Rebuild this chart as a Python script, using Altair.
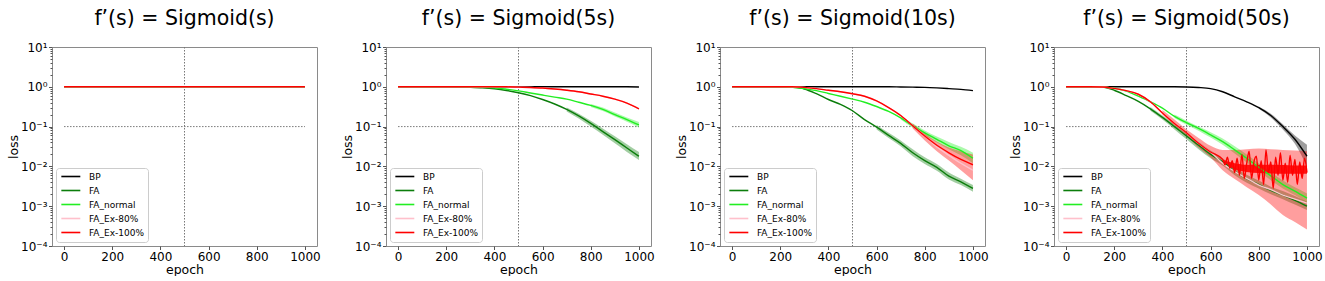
import altair as alt
import pandas as pd

# ---------------- data ----------------
EPOCHS = [0, 50, 100, 150, 200, 250, 300, 350, 400, 450, 500,
          550, 600, 650, 700, 750, 800, 850, 900, 950, 1000]
SERIES = ["BP", "FA", "FA_normal", "FA_Ex-80%", "FA_Ex-100%"]
COLORS = ["#000000", "#0b7d0b", "#22ee22", "#ffc0cb", "#ff0000"]
TITLES = ["f’(s) = Sigmoid(s)", "f’(s) = Sigmoid(5s)",
          "f’(s) = Sigmoid(10s)", "f’(s) = Sigmoid(50s)"]
X_TICKS = [0, 200, 400, 600, 800, 1000]
Y_TICKS = [1e-4, 1e-3, 1e-2, 1e-1, 1e0, 1e1]
Y_MINOR = [m * 10.0 ** p for p in (-4, -3, -2, -1, 0) for m in range(2, 10)]
V_REF = [500]
H_REF = [0.1]
H_REF_X = [0, 1000]

# panel 1 : Sigmoid(s) -- everything flat at 1
P1_BP = [1.0] * 21
P1_FA = [1.0] * 21
P1_FAN = [1.0] * 21
P1_EX80 = [1.0] * 21
P1_EX100 = [1.0] * 21

# panel 2 : Sigmoid(5s)
P2_BP = [1.0] * 20 + [0.99]
P2_FA = [1.0, 1.0, 1.0, 1.0, 1.0, 0.99, 0.97, 0.94, 0.89, 0.81, 0.71,
         0.60, 0.48, 0.37, 0.27, 0.185, 0.12, 0.075, 0.047, 0.029, 0.018]
P2_FAN = [1.0, 1.0, 1.0, 1.0, 1.0, 1.0, 0.99, 0.97, 0.94, 0.87, 0.79,
          0.70, 0.62, 0.55, 0.49, 0.41, 0.34, 0.27, 0.20, 0.15, 0.11]
P2_EX100 = [1.0, 1.0, 1.0, 1.0, 1.0, 1.0, 1.0, 1.0, 1.0, 1.0, 0.98,
            0.96, 0.93, 0.88, 0.82, 0.75, 0.66, 0.58, 0.49, 0.39, 0.28]
P2_EX80 = [1.0, 1.0, 1.0, 1.0, 1.0, 1.0, 1.0, 1.0, 1.0, 1.0, 0.98,
           0.96, 0.93, 0.88, 0.82, 0.75, 0.66, 0.58, 0.49, 0.39, 0.28]

# panel 3 : Sigmoid(10s)
P3_BP = [1.0] * 14 + [0.99, 0.98, 0.97, 0.94, 0.90, 0.86, 0.80]
P3_FA = [1.0, 1.0, 1.0, 1.0, 1.0, 0.97, 0.88, 0.67, 0.48, 0.36, 0.25,
         0.15, 0.097, 0.06, 0.038, 0.022, 0.014, 0.0095, 0.0057, 0.0041, 0.0028]
P3_FAN = [1.0, 1.0, 1.0, 1.0, 1.0, 0.97, 0.90, 0.80, 0.68, 0.58, 0.49,
          0.41, 0.32, 0.24, 0.165, 0.105, 0.07, 0.048, 0.033, 0.025, 0.016]
P3_EX100 = [1.0, 1.0, 1.0, 1.0, 1.0, 1.0, 0.97, 0.90, 0.82, 0.75, 0.67,
            0.58, 0.44, 0.30, 0.19, 0.105, 0.058, 0.034, 0.022, 0.015, 0.011]
P3_EX80 = [1.0, 1.0, 1.0, 1.0, 1.0, 1.0, 0.97, 0.90, 0.82, 0.75, 0.67,
           0.58, 0.44, 0.30, 0.19, 0.105, 0.058, 0.031, 0.019, 0.012, 0.008]

# panel 4 : Sigmoid(50s)
P4_BP = [1.0] * 10 + [0.99, 0.96, 0.90, 0.75, 0.56, 0.42, 0.30, 0.19, 0.10, 0.048, 0.018]
P4_FA = [1.0, 1.0, 1.0, 0.99, 0.82, 0.60, 0.43, 0.28, 0.17, 0.10, 0.058,
         0.034, 0.02, 0.013, 0.0076, 0.0049, 0.0035, 0.0025, 0.0019, 0.0014, 0.001]
P4_FAN = [1.0, 1.0, 1.0, 0.99, 0.92, 0.78, 0.58, 0.42, 0.29, 0.18, 0.125,
          0.09, 0.062, 0.042, 0.026, 0.016, 0.0095, 0.0058, 0.0035, 0.0024, 0.0016]
P4_EX80 = [1.0, 1.0, 1.0, 0.99, 0.91, 0.80, 0.65, 0.42, 0.22, 0.12, 0.07,
           0.038, 0.023, 0.012, 0.0075, 0.005, 0.0034, 0.0026, 0.0019, 0.0015, 0.0012]
P4_EX100_EPOCHS = [0, 50, 100, 150, 200, 250, 300, 350, 400, 450, 500, 550, 600]
P4_EX100 = [1.0, 1.0, 1.0, 0.99, 0.91, 0.80, 0.65, 0.42, 0.22, 0.12, 0.07, 0.038, 0.023]
P4_EX100_NOISY_EPOCHS = list(range(650, 1001, 10))
P4_EX100_NOISY = [0.015, 0.011, 0.017, 0.009, 0.014, 0.007, 0.016, 0.006, 0.020, 0.005,
                  0.012, 0.024, 0.005, 0.013, 0.018, 0.0045, 0.014, 0.0035, 0.026, 0.007,
                  0.013, 0.0028, 0.017, 0.006, 0.022, 0.0045, 0.012, 0.004, 0.019, 0.006,
                  0.015, 0.0035, 0.013, 0.005, 0.016, 0.007]
# dense core of the noisy FA_Ex-100% trace
P4_CORE_E = [650, 700, 750, 800, 850, 900, 950, 1000]
P4_CORE_LO = [0.012, 0.0085, 0.0072, 0.0068, 0.0066, 0.0065, 0.0065, 0.0065]
P4_CORE_HI = [0.015, 0.012, 0.011, 0.011, 0.011, 0.0108, 0.0105, 0.0105]

# spread bands (lower / upper) where visible
P2_FA_BAND_E = [700, 750, 800, 850, 900, 950, 1000]
P2_FA_LO = [0.24, 0.16, 0.10, 0.062, 0.038, 0.023, 0.0145]
P2_FA_HI = [0.30, 0.21, 0.14, 0.09, 0.057, 0.036, 0.023]
P2_FAN_BAND_E = [800, 850, 900, 950, 1000]
P2_FAN_LO = [0.31, 0.245, 0.18, 0.133, 0.095]
P2_FAN_HI = [0.37, 0.30, 0.225, 0.17, 0.13]

P3_FA_BAND_E = [600, 650, 700, 750, 800, 850, 900, 950, 1000]
P3_FA_LO = [0.085, 0.052, 0.032, 0.018, 0.0115, 0.0078, 0.0047, 0.0034, 0.0023]
P3_FA_HI = [0.11, 0.07, 0.045, 0.027, 0.017, 0.0115, 0.007, 0.0049, 0.0034]
P3_FAN_BAND_E = [700, 750, 800, 850, 900, 950, 1000]
P3_FAN_LO = [0.15, 0.093, 0.06, 0.04, 0.027, 0.019, 0.012]
P3_FAN_HI = [0.18, 0.12, 0.08, 0.056, 0.041, 0.031, 0.022]
P3_EX100_BAND_E = [750, 800, 850, 900, 950, 1000]
P3_EX100_LO = [0.09, 0.045, 0.024, 0.014, 0.008, 0.0045]
P3_EX100_HI = [0.12, 0.068, 0.042, 0.03, 0.024, 0.02]

P4_BP_BAND_E = [800, 850, 900, 950, 1000]
P4_BP_LO = [0.28, 0.17, 0.085, 0.037, 0.010]
P4_BP_HI = [0.32, 0.21, 0.115, 0.06, 0.035]
P4_FA_BAND_E = [350, 400, 450, 500, 550, 600, 650, 700, 750, 800, 850, 900, 950, 1000]
P4_FA_LO = [0.25, 0.15, 0.085, 0.048, 0.027, 0.016, 0.0105, 0.006, 0.0039, 0.0028,
            0.002, 0.0015, 0.0011, 0.0008]
P4_FA_HI = [0.31, 0.19, 0.115, 0.068, 0.041, 0.025, 0.016, 0.0095, 0.0062, 0.0044,
            0.0031, 0.0024, 0.0018, 0.0013]
P4_FAN_BAND_E = [450, 500, 550, 600, 650, 700, 750, 800, 850, 900, 950, 1000]
P4_FAN_LO = [0.165, 0.112, 0.079, 0.053, 0.035, 0.021, 0.0125, 0.0075, 0.0045, 0.0028,
             0.0019, 0.0012]
P4_FAN_HI = [0.20, 0.14, 0.10, 0.072, 0.05, 0.032, 0.02, 0.012, 0.0072, 0.0044,
             0.003, 0.0021]
P4_EX100_BAND_E = [400, 450, 500, 550, 600, 650, 700, 750, 800, 850, 900, 950, 1000]
P4_EX100_LO = [0.20, 0.105, 0.058, 0.03, 0.017, 0.008, 0.0048, 0.003, 0.0019, 0.0011,
               0.0006, 0.0004, 0.00026]
P4_EX100_HI = [0.26, 0.15, 0.085, 0.052, 0.033, 0.026, 0.026, 0.027, 0.028, 0.027,
               0.026, 0.025, 0.024]

# ---------------- assemble tables ----------------
LINES = [
    [("BP", EPOCHS, P1_BP), ("FA", EPOCHS, P1_FA), ("FA_normal", EPOCHS, P1_FAN),
     ("FA_Ex-80%", EPOCHS, P1_EX80), ("FA_Ex-100%", EPOCHS, P1_EX100)],
    [("BP", EPOCHS, P2_BP), ("FA", EPOCHS, P2_FA), ("FA_normal", EPOCHS, P2_FAN),
     ("FA_Ex-80%", EPOCHS, P2_EX80), ("FA_Ex-100%", EPOCHS, P2_EX100)],
    [("BP", EPOCHS, P3_BP), ("FA", EPOCHS, P3_FA), ("FA_normal", EPOCHS, P3_FAN),
     ("FA_Ex-80%", EPOCHS, P3_EX80), ("FA_Ex-100%", EPOCHS, P3_EX100)],
    [("BP", EPOCHS, P4_BP), ("FA", EPOCHS, P4_FA), ("FA_normal", EPOCHS, P4_FAN),
     ("FA_Ex-80%", EPOCHS, P4_EX80),
     ("FA_Ex-100%", P4_EX100_EPOCHS + P4_EX100_NOISY_EPOCHS, P4_EX100 + P4_EX100_NOISY)],
]
# (series, epochs, lower, upper, opacity)
BANDS = [
    [],
    [("FA", P2_FA_BAND_E, P2_FA_LO, P2_FA_HI, 0.38),
     ("FA_normal", P2_FAN_BAND_E, P2_FAN_LO, P2_FAN_HI, 0.38)],
    [("FA", P3_FA_BAND_E, P3_FA_LO, P3_FA_HI, 0.38),
     ("FA_normal", P3_FAN_BAND_E, P3_FAN_LO, P3_FAN_HI, 0.38),
     ("FA_Ex-100%", P3_EX100_BAND_E, P3_EX100_LO, P3_EX100_HI, 0.38)],
    [("BP", P4_BP_BAND_E, P4_BP_LO, P4_BP_HI, 0.38),
     ("FA", P4_FA_BAND_E, P4_FA_LO, P4_FA_HI, 0.38),
     ("FA_normal", P4_FAN_BAND_E, P4_FAN_LO, P4_FAN_HI, 0.38),
     ("FA_Ex-100%", P4_EX100_BAND_E, P4_EX100_LO, P4_EX100_HI, 0.38),
     ("FA_Ex-100%", P4_CORE_E, P4_CORE_LO, P4_CORE_HI, 0.9)],
]

MAJOR = "abs(log(datum.value)/LN10 - round(log(datum.value)/LN10)) < 0.001"
EXP = "round(log(datum.value)/LN10)"
Y_LABEL = (f"({MAJOR}) ? '10' + ({EXP} == 1 ? '¹' : {EXP} == 0 ? '⁰' : {EXP} == -1 ? '⁻¹' : "
           f"{EXP} == -2 ? '⁻²' : {EXP} == -3 ? '⁻³' : '⁻⁴') : ''")

FONT = "DejaVu Sans"
X_SCALE = alt.Scale(domain=[-50, 1050], nice=False, zero=False)
Y_SCALE = alt.Scale(type="log", domain=[1e-4, 10], nice=False)
X_AXIS = alt.Axis(values=X_TICKS, title="epoch", tickSize=3.5, labelPadding=1.5,
                  titlePadding=1, labelFlush=False, format="d")
Y_AXIS = alt.Axis(values=Y_TICKS + Y_MINOR, labelExpr=Y_LABEL, title="loss",
                  tickSize={"condition": {"test": MAJOR, "value": 3.5}, "value": 2},
                  labelPadding=1.5, labelOverlap=False, labelFlush=False, labelBound=False,
                  titlePadding=6, minExtent=26, maxExtent=26)
COLOR_SCALE = alt.Scale(domain=SERIES, range=COLORS)
LEGEND = alt.Legend(orient="bottom-left", title=None, offset=4, padding=4,
                    fillColor="white", strokeColor="#cccccc", cornerRadius=3,
                    symbolType="M-1,0H5", symbolSize=40, symbolStrokeWidth=1.6,
                    labelFont=FONT, labelFontSize=9, labelOffset=20, rowPadding=4,
                    labelColor="black")

REF_STYLE = dict(color="#777777", strokeDash=[1.5, 1.5], strokeWidth=1)


def xenc(field):
    return alt.X(field, scale=X_SCALE, axis=X_AXIS)


def yenc(field):
    return alt.Y(field, scale=Y_SCALE, axis=Y_AXIS)


def panel(i):
    lrows = []
    for s, es, vs in LINES[i]:
        for e, v in zip(es, vs):
            lrows.append({"series": s, "epoch": e, "loss": v})

    vrule = alt.Chart(pd.DataFrame({"epoch": V_REF})).mark_rule(**REF_STYLE).encode(
        x=xenc("epoch:Q"))
    hrule = alt.Chart(pd.DataFrame({"epoch": [H_REF_X[0]], "epoch2": [H_REF_X[1]],
                                    "loss": H_REF})).mark_rule(**REF_STYLE).encode(
        x=xenc("epoch:Q"), x2="epoch2:Q", y=yenc("loss:Q"))
    layers = [vrule, hrule]
    for s, es, lo, hi, op in BANDS[i]:
        bdf = pd.DataFrame({"epoch": es, "lo": lo, "hi": hi})
        layers.append(
            alt.Chart(bdf).mark_area(opacity=op, interpolate="monotone",
                                     color=COLORS[SERIES.index(s)]).encode(
                x=xenc("epoch:Q"), y=yenc("lo:Q"), y2="hi:Q"))
    lines = alt.Chart(pd.DataFrame(lrows)).mark_line(strokeWidth=1.4, interpolate="monotone").encode(
        x=xenc("epoch:Q"), y=yenc("loss:Q"),
        color=alt.Color("series:N", scale=COLOR_SCALE, legend=LEGEND, sort=SERIES))
    layers.append(lines)
    return alt.layer(*layers).properties(width=265, height=199, title=TITLES[i])


chart = alt.hconcat(*[panel(i) for i in range(4)], spacing=19).resolve_scale(
    color="independent"
).configure_view(stroke="#8a8a8a", strokeWidth=1).configure_axis(
    domain=False, grid=False, labelFont=FONT, labelFontSize=12, labelColor="black",
    titleFont=FONT, titleFontSize=12.5, titleFontWeight="normal", titleColor="black",
    tickColor="#555555", tickWidth=1
).configure_title(
    font=FONT, fontSize=20.5, fontWeight="normal", anchor="middle", baseline="alphabetic",
    offset=12, color="black"
).properties(padding={"left": 6, "top": 8, "right": 0, "bottom": 0})

chart.save("out.html", embed_options={"renderer": "svg", "actions": False})
